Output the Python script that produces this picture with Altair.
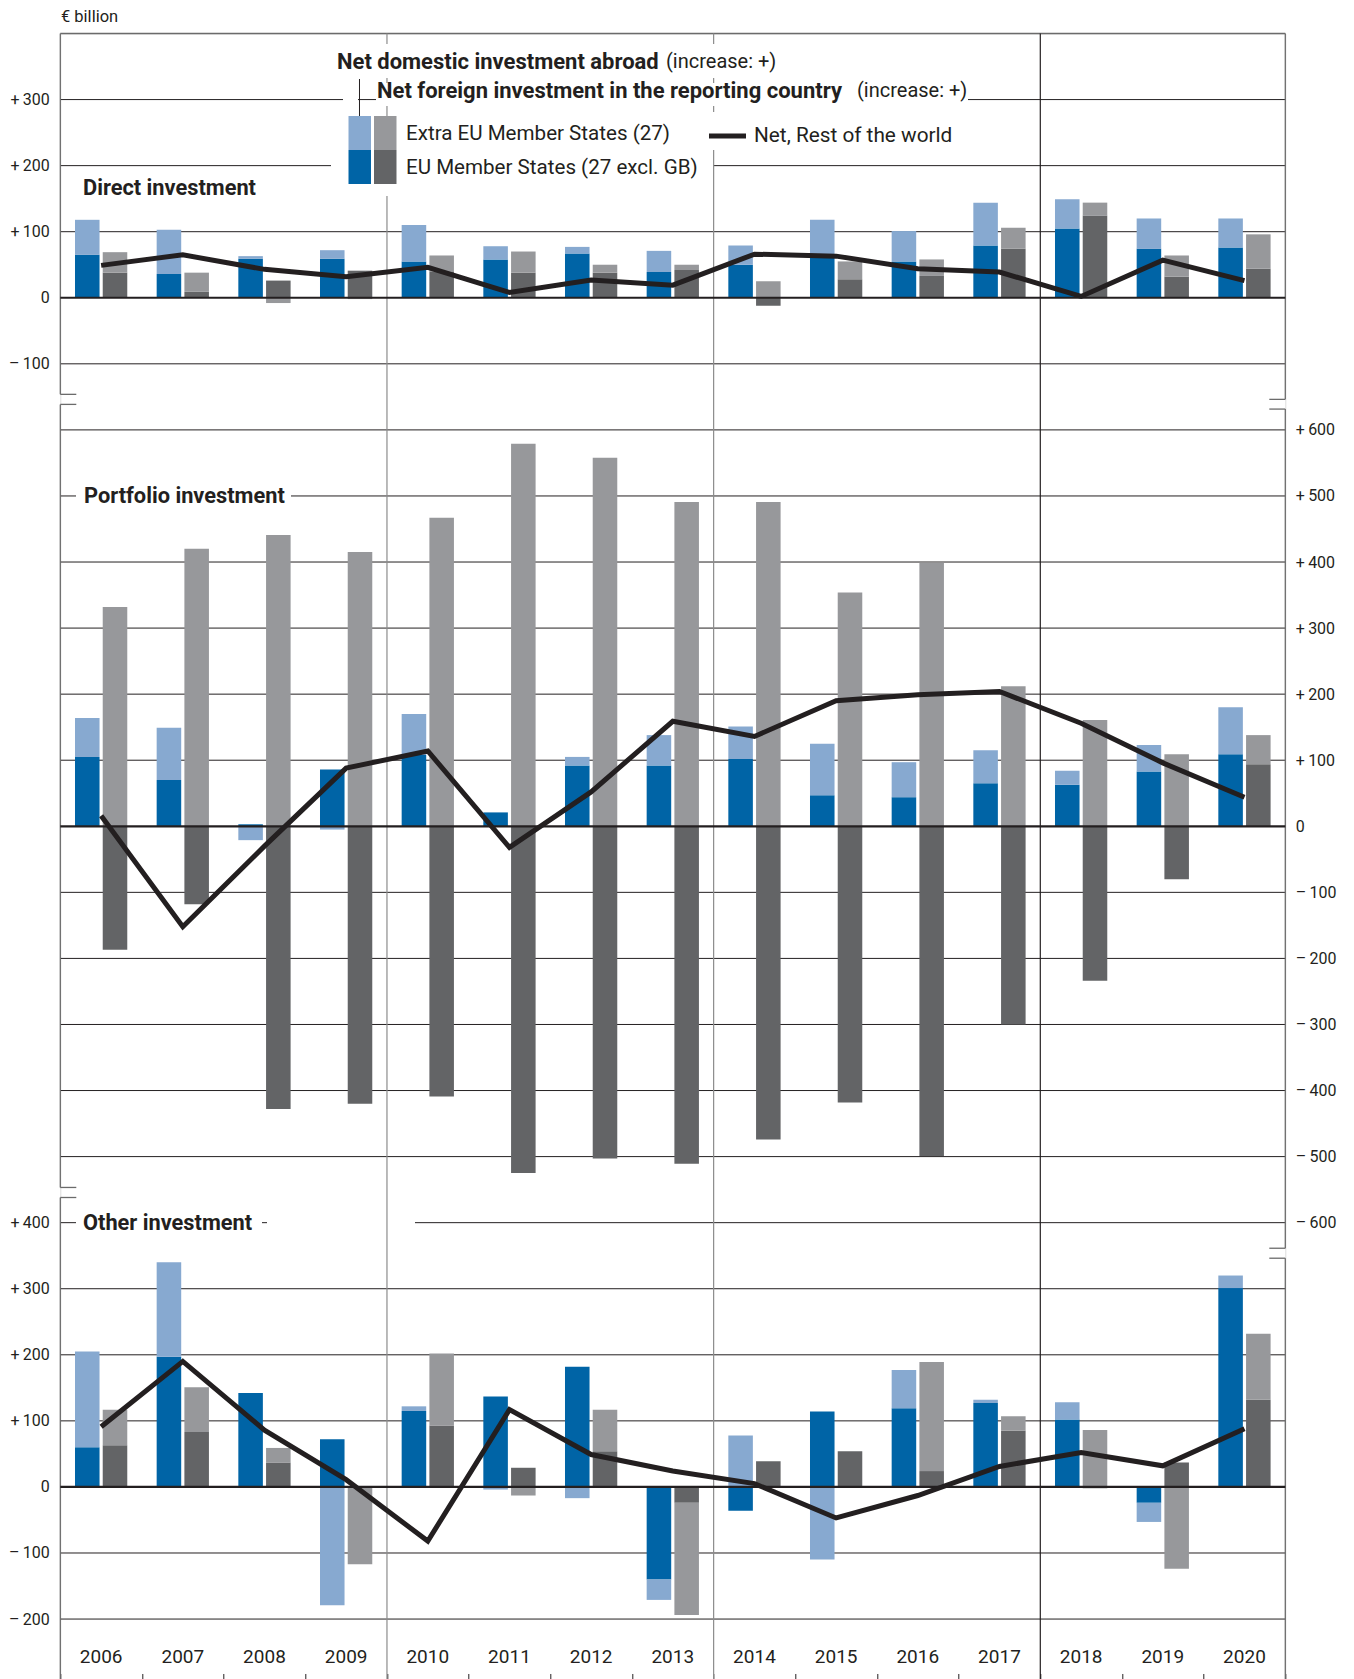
import altair as alt
import pandas as pd

years = list(range(2006, 2021))

# ---------------- data (EUR billion) ----------------
# Direct investment
di_abroad_eu     = [65, 36, 59, 59, 55, 58, 67, 39, 50, 60, 55, 79, 105, 74, 76]
di_abroad_extra  = [53, 67, 4, 13, 55, 20, 10, 32, 29, 58, 46, 65, 44, 46, 44]
di_foreign_eu    = [38, 9, 26, 41, 40, 38, 38, 42, -12, 28, 33, 74, 124, 32, 44]
di_foreign_extra = [31, 29, -8, -2, 24, 32, 12, 8, 25, 27, 25, 32, 20, 32, 52]
di_net           = [49, 65, 43, 32, 46, 8, 27, 19, 66, 63, 44, 39, 2, 57, 26]

# Portfolio investment
pi_abroad_eu     = [105, 70, 3, 86, 108, 21, 92, 92, 102, 47, 44, 65, 63, 83, 109]
pi_abroad_extra  = [59, 79, -21, -5, 62, 0, 13, 46, 49, 78, 53, 50, 21, 40, 71]
pi_foreign_eu    = [-187, -118, -428, -420, -409, -525, -503, -511, -474, -418, -499, -300, -234, -80, 94]
pi_foreign_extra = [332, 420, 441, 415, 467, 579, 558, 491, 491, 354, 399, 212, 161, 109, 44]
pi_net           = [16, -152, -30, 88, 114, -32, 52, 159, 136, 190, 199, 204, 156, 96, 44]

# Other investment
oi_abroad_eu     = [60, 197, 142, 72, 115, 137, 182, -140, -36, 114, 119, 127, 102, -24, 301]
oi_abroad_extra  = [145, 143, 0, -179, 7, -4, -17, -31, 78, -110, 58, 5, 26, -29, 19]
oi_foreign_eu    = [63, 83, 37, 0, 93, 29, 54, -24, 39, 54, 24, 85, -2, 37, 132]
oi_foreign_extra = [54, 68, 22, -117, 109, -13, 63, -170, 0, 0, 165, 22, 86, -124, 100]
oi_net           = [91, 190, 86, 11, -82, 117, 49, 24, 5, -47, -13, 31, 52, 32, 88]

panels = [
    ("direct", 0, di_abroad_eu, di_abroad_extra, di_foreign_eu, di_foreign_extra, di_net),
    ("portfolio", -800, pi_abroad_eu, pi_abroad_extra, pi_foreign_eu, pi_foreign_extra, pi_net),
    ("other", -1800, oi_abroad_eu, oi_abroad_extra, oi_foreign_eu, oi_foreign_extra, oi_net),
]

bar_rows, line_rows = [], []
for name, off, aeu, aex, feu, fex, net in panels:
    for i, yr in enumerate(years):
        for side, comps in (("abroad", [("eu", aeu[i]), ("extra", aex[i])]),
                            ("foreign", [("eu", feu[i]), ("extra", fex[i])])):
            pos = neg = 0
            for comp, v in comps:
                if v == 0:
                    continue
                if v > 0:
                    y0, y1 = pos, pos + v
                    pos += v
                else:
                    y0, y1 = neg, neg + v
                    neg += v
                bar_rows.append(dict(panel=name, year=yr, side=side,
                                     key=f"{side}_{comp}", y0=y0 + off, y1=y1 + off))
        line_rows.append(dict(panel=name, year=yr, net=net[i] + off))

bars_df = pd.DataFrame(bar_rows)
line_df = pd.DataFrame(line_rows)

# ---------------- layout ----------------
FONT = "Roboto"
TXT = "#231f20"
OX, OY = 60.3, 33.5          # plot origin on the page
W, H = 1225, 1647
YD = [-2093, 400]


def px(x):
    return x - OX


def py(y):
    return y - OY


yscale = alt.Scale(domain=YD, nice=False, zero=False)
xscale = alt.Scale(domain=years, paddingInner=0, paddingOuter=0)
xaxis = alt.Axis(orient="bottom", labels=False, domain=False, ticks=True,
                 tickBand="extent", tickSize=7, tickColor=TXT, tickWidth=1,
                 offset=-7, title=None, grid=False)


def xenc(**kw):
    return alt.X("year:O", scale=xscale, axis=xaxis, **kw)


one = alt.Data(values=[{"a": 1}])

# ---------------- axes / grid ----------------
left_vals = [300, 200, 100, 0, -100, -1400, -1500, -1600, -1700, -1800, -1900, -2000]
right_vals = [-200, -300, -400, -500, -600, -700, -800, -900, -1000, -1100, -1200, -1300, -1400]
grid_vals = [300, 200, 100, -100,
             -200, -300, -400, -500, -600, -700, -900, -1000, -1100, -1200, -1300, -1400,
             -1500, -1600, -1700, -1900, -2000]
zero_vals = [0, -800, -1800]


def fmt(v):
    return (f"(({v}) > 0 ? '+\u2009' + ({v}) : "
            f"((({v}) < 0) ? '\u2013\u2009' + abs({v}) : '0'))")


left_expr = f"datum.value > -1000 ? {fmt('datum.value')} : {fmt('datum.value + 1800')}"
right_expr = fmt("datum.value + 800")

grid = alt.Chart(pd.DataFrame({"g": grid_vals})).mark_rule(
    color=TXT, strokeWidth=1).encode(
    y=alt.Y("g:Q", scale=yscale,
            axis=alt.Axis(orient="left", values=left_vals, labelExpr=left_expr,
                          ticks=False, domain=False, grid=False, labelPadding=11,
                          labelFont=FONT, labelFontSize=16, labelColor=TXT,
                          title=None)),
    x=alt.value(0), x2=alt.value(W))

zero = alt.Chart(pd.DataFrame({"z": zero_vals})).mark_rule(
    color=TXT, strokeWidth=2.2).encode(
    y=alt.Y("z:Q", scale=yscale,
            axis=alt.Axis(orient="right", values=right_vals, labelExpr=right_expr,
                          ticks=False, domain=False, grid=False, labelPadding=10,
                          labelFont=FONT, labelFontSize=16, labelColor=TXT,
                          title=None)),
    x=alt.value(0), x2=alt.value(W))

# ---------------- frame ----------------
FRAME = "#6b6b6b"
left_segs = pd.DataFrame({"a": [400, -161.4, -1361.9], "b": [-146.2, -1346.7, -2093]})
right_segs = pd.DataFrame({"a": [400, -168.5, -1453.8], "b": [-153.8, -1438.7, -2093]})
left_ticks = pd.DataFrame({"t": [-146.2, -161.4, -1346.7, -1361.9]})
right_ticks = pd.DataFrame({"t": [-153.8, -168.5, -1438.7, -1453.8]})

frame_layers = [
    alt.Chart(left_segs).mark_rule(color=FRAME, strokeWidth=1.3).encode(
        x=alt.value(0), y=alt.Y("a:Q", scale=yscale, axis=None), y2="b:Q"),
    alt.Chart(right_segs).mark_rule(color=FRAME, strokeWidth=1.3).encode(
        x=alt.value(W), y=alt.Y("a:Q", scale=yscale, axis=None), y2="b:Q"),
    alt.Chart(left_ticks).mark_rule(color=FRAME, strokeWidth=1.3).encode(
        x=alt.value(0), x2=alt.value(16), y=alt.Y("t:Q", scale=yscale, axis=None)),
    alt.Chart(right_ticks).mark_rule(color=FRAME, strokeWidth=1.3).encode(
        x=alt.value(W - 16), x2=alt.value(W), y=alt.Y("t:Q", scale=yscale, axis=None)),
    alt.Chart(pd.DataFrame({"t": [400]})).mark_rule(color=FRAME, strokeWidth=1.3).encode(
        x=alt.value(0), x2=alt.value(W), y=alt.Y("t:Q", scale=yscale, axis=None)),
]


def white_box(x0, x1, y0, y1):
    return alt.Chart(one).mark_rect(color="white").encode(
        x=alt.value(px(x0)), x2=alt.value(px(x1)),
        y=alt.value(py(y0)), y2=alt.value(py(y1)))


boxes_a = [white_box(76, 291, 487, 505),
           white_box(76, 262, 1214, 1231),
           white_box(267, 415, 1214, 1231)]

sep_grey = alt.Chart(pd.DataFrame({"year": [2010, 2014]})).mark_rule(
    color="#8c8c8c", strokeWidth=1.2).encode(
    x=xenc(bandPosition=0), y=alt.value(0), y2=alt.value(H))
sep_dark = alt.Chart(pd.DataFrame({"year": [2018]})).mark_rule(
    color=TXT, strokeWidth=1.2).encode(
    x=xenc(bandPosition=0), y=alt.value(0), y2=alt.value(H))

boxes_b = [white_box(331, 780, 44, 78),
           white_box(376, 968, 83, 106),
           white_box(343, 358, 96, 107),
           white_box(331, 713, 116, 196),
           white_box(700, 960, 112, 150)]

# ---------------- data marks ----------------
color_scale = alt.Scale(
    domain=["abroad_eu", "abroad_extra", "foreign_eu", "foreign_extra"],
    range=["#0064a6", "#87a9d0", "#636466", "#97989b"])

bars = alt.Chart(bars_df).mark_bar().encode(
    x=xenc(),
    xOffset=alt.XOffset("side:N", scale=alt.Scale(domain=["abroad", "foreign"],
                                                   paddingInner=0.115, paddingOuter=0.53)),
    y=alt.Y("y0:Q", scale=yscale, axis=None),
    y2="y1:Q",
    color=alt.Color("key:N", scale=color_scale, legend=None))

net_line = alt.Chart(line_df).mark_line(color=TXT, strokeWidth=5, strokeJoin="miter").encode(
    x=xenc(), y=alt.Y("net:Q", scale=yscale, axis=None), detail="panel:N")

# ---------------- texts and legend ----------------


def label(text, x, y, size=18, weight="normal", color=TXT):
    return alt.Chart(one).mark_text(
        text=text, align="left", baseline="middle", font=FONT, fontSize=size,
        fontWeight=weight, color=color).encode(
        x=alt.value(px(x)), y=alt.value(py(y)))


def swatch(x0, x1, y0, y1, col):
    return alt.Chart(one).mark_rect(color=col).encode(
        x=alt.value(px(x0)), x2=alt.value(px(x1)),
        y=alt.value(py(y0)), y2=alt.value(py(y1)))


texts = [
    label("€ billion", 61, 17, size=16.5),
    label("Direct investment", 83, 188, size=21.8, weight="bold"),
    label("Portfolio investment", 84, 496, size=21.8, weight="bold"),
    label("Other investment", 83, 1223, size=21.8, weight="bold"),
    label("Net domestic investment abroad", 337, 62, size=22, weight="bold"),
    label("(increase: +)", 666, 62, size=20),
    label("Net foreign investment in the reporting country", 377, 91, size=22, weight="bold"),
    label("(increase: +)", 857, 91, size=20),
    label("Extra EU Member States (27)", 406, 134, size=20.6),
    label("EU Member States (27 excl. GB)", 406, 168, size=20.6),
    label("Net, Rest of the world", 754, 136, size=20.8),
]

legend_marks = [
    swatch(348.5, 371, 116, 150, "#87a9d0"),
    swatch(348.5, 371, 150, 184, "#0064a6"),
    swatch(374, 396.5, 116, 150, "#97989b"),
    swatch(374, 396.5, 150, 184, "#636466"),
    alt.Chart(one).mark_rule(color=TXT, strokeWidth=1).encode(
        x=alt.value(px(359.5)), y=alt.value(py(79)), y2=alt.value(py(116))),
    alt.Chart(one).mark_rule(color=TXT, strokeWidth=5).encode(
        x=alt.value(px(709)), x2=alt.value(px(746)), y=alt.value(py(136))),
]

year_text = alt.Chart(pd.DataFrame({"year": years})).mark_text(
    font=FONT, fontSize=19, color=TXT, baseline="middle").encode(
    x=xenc(), y=alt.value(py(1657)), text="year:O")

chart = alt.layer(
    grid, *frame_layers, *boxes_a, sep_grey, sep_dark, *boxes_b,
    bars, zero, net_line, *legend_marks, *texts, year_text
).resolve_axis(y="independent").properties(
    width=W, height=H,
    autosize=alt.AutoSizeParams(type="none"),
    padding={"left": OX - 8, "top": OY - 8, "right": 60, "bottom": 0},
).configure_view(strokeWidth=0).configure(background="white")

chart.save("out.html", embed_options={"renderer": "svg", "actions": False})
